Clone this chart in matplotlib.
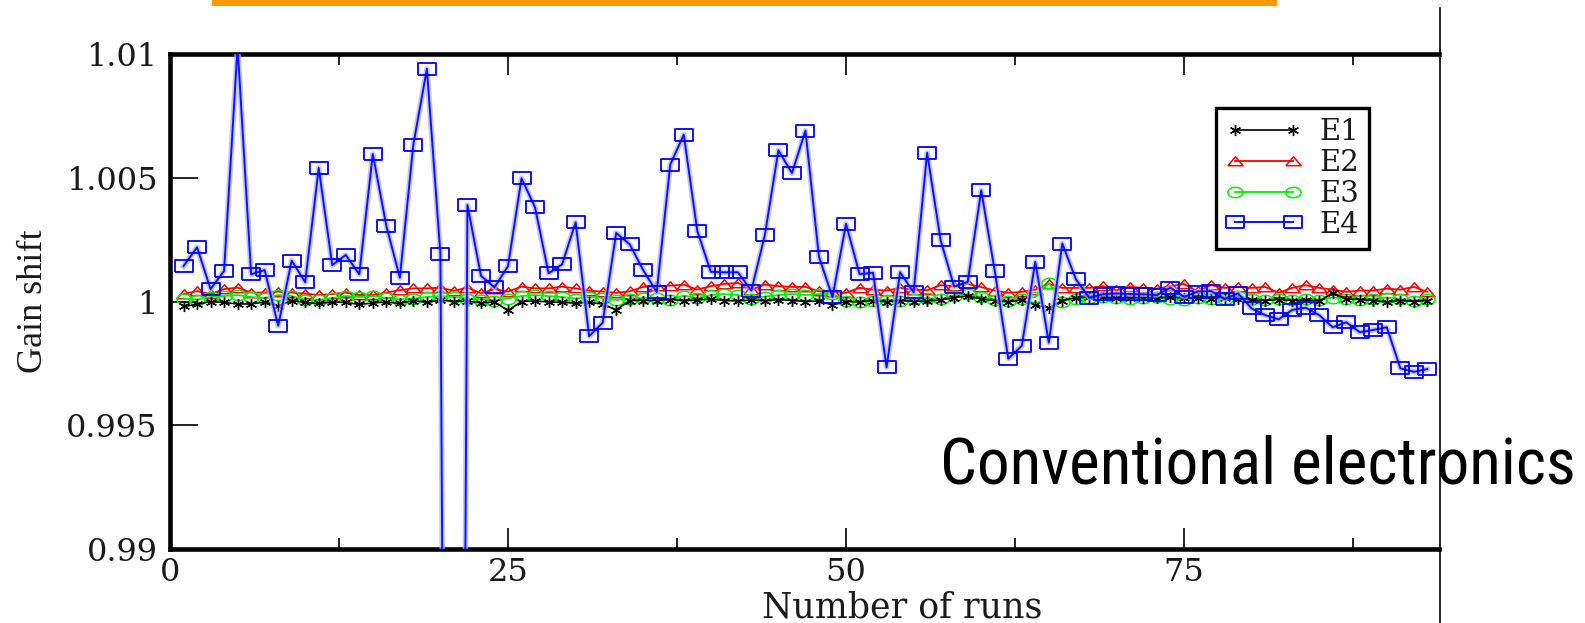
import matplotlib
matplotlib.use("Agg")
import matplotlib.pyplot as plt
import numpy as np
import os
from matplotlib.lines import Line2D
from matplotlib.patches import Rectangle
from matplotlib import font_manager as fm

# ---------------- data ----------------
runs = list(range(1, 94))

e1 = [0.99980, 0.99988, 1.00000, 0.99996, 0.99990, 0.99990, 0.99998, 0.99982, 1.00004, 0.99996,
      0.99992, 0.99998, 0.99996, 0.99988, 0.99994, 0.99998, 0.99992, 1.00004, 0.99996, 1.00006,
      1.00000, 1.00002, 0.99994, 0.99998, 0.99964, 1.00000, 1.00002, 0.99998, 0.99996, 0.99994,
      0.99996, 0.99990, 0.99966, 1.00004, 1.00004, 1.00004, 1.00008, 1.00004, 1.00006, 1.00010,
      1.00004, 1.00002, 1.00006, 1.00004, 1.00008, 1.00004, 1.00000, 1.00002, 0.99986, 1.00000,
      0.99998, 1.00004, 0.99998, 1.00004, 1.00000, 1.00002, 1.00006, 1.00016, 1.00022, 1.00010,
      1.00004, 0.99998, 1.00006, 0.99986, 0.99974, 1.00004, 1.00016, 1.00018, 1.00018, 1.00014,
      1.00016, 1.00016, 1.00014, 1.00018, 1.00014, 1.00016, 1.00012, 1.00016, 1.00010, 1.00006,
      1.00004, 1.00008, 1.00004, 1.00006, 1.00002, 1.00034, 1.00010, 1.00008, 1.00004, 0.99998,
      1.00004, 1.00000, 1.00004]

e2 = [1.00030, 1.00042, 1.00030, 1.00050, 1.00056, 1.00036, 1.00036, 1.00040, 1.00036, 1.00032,
      1.00026, 1.00030, 1.00036, 1.00026, 1.00026, 1.00036, 1.00046, 1.00053, 1.00053, 1.00056,
      1.00043, 1.00056, 1.00033, 1.00050, 1.00040, 1.00060, 1.00053, 1.00053, 1.00060, 1.00053,
      1.00043, 1.00040, 1.00035, 1.00041, 1.00059, 1.00062, 1.00064, 1.00068, 1.00048, 1.00062,
      1.00071, 1.00075, 1.00048, 1.00068, 1.00062, 1.00059, 1.00059, 1.00041, 1.00039, 1.00035,
      1.00055, 1.00048, 1.00044, 1.00055, 1.00048, 1.00045, 1.00066, 1.00062, 1.00071, 1.00058,
      1.00044, 1.00035, 1.00039, 1.00048, 1.00071, 1.00055, 1.00055, 1.00055, 1.00062, 1.00045,
      1.00059, 1.00055, 1.00052, 1.00062, 1.00071, 1.00041, 1.00066, 1.00055, 1.00059, 1.00055,
      1.00059, 1.00035, 1.00055, 1.00066, 1.00055, 1.00048, 1.00039, 1.00044, 1.00044, 1.00052,
      1.00048, 1.00059, 1.00039]

e3 = [1.00012, 1.00008, 1.00018, 1.00022, 1.00026, 1.00018, 1.00014, 1.00026, 1.00022, 1.00008,
      1.00006, 1.00014, 1.00022, 1.00018, 1.00022, 1.00014, 1.00008, 1.00012, 1.00018, 1.00022,
      1.00018, 1.00012, 1.00008, 1.00004, 1.00012, 1.00022, 1.00026, 1.00022, 1.00018, 1.00012,
      1.00018, 1.00014, 1.00006, 1.00012, 1.00014, 1.00014, 1.00008, 1.00024, 1.00014, 1.00026,
      1.00030, 1.00026, 1.00012, 1.00020, 1.00026, 1.00030, 1.00026, 1.00030, 1.00032, 1.00004,
      1.00000, 1.00004, 1.00008, 1.00004, 1.00010, 1.00014, 1.00010, 1.00024, 1.00030, 1.00018,
      1.00008, 1.00004, 1.00012, 1.00018, 1.00075, 1.00000, 1.00012, 1.00016, 1.00018, 1.00016,
      1.00012, 1.00016, 1.00018, 1.00012, 1.00008, 1.00016, 1.00012, 1.00010, 1.00022, 1.00010,
      1.00006, 1.00010, 1.00008, 1.00010, 1.00008, 1.00016, 1.00012, 1.00008, 1.00012, 1.00016,
      1.00010, 1.00004, 1.00012]

e4 = [1.00143, 1.00219, 1.00050, 1.00124, 1.01030, 1.00110, 1.00127, 0.99902, 1.00165, 1.00078,
      1.00540, 1.00147, 1.00188, 1.00110, 1.00596, 1.00306, 1.00096, 1.00634, 1.00940, 1.00192,
      0.91200, 1.00390, 1.00104, 1.00057, 1.00143, 1.00498, 1.00380, 1.00114, 1.00150, 1.00320,
      0.99860, 0.99914, 1.00277, 1.00231, 1.00127, 1.00038, 1.00553, 1.00674, 1.00285, 1.00120,
      1.00118, 1.00118, 1.00044, 1.00269, 1.00611, 1.00519, 1.00690, 1.00181, 1.00017, 1.00314,
      1.00111, 1.00116, 0.99734, 1.00118, 1.00037, 1.00601, 1.00247, 1.00060, 1.00079, 1.00449,
      1.00124, 0.99769, 0.99821, 1.00160, 0.99834, 1.00234, 1.00090, 1.00015, 1.00030, 1.00033,
      1.00030, 1.00029, 1.00026, 1.00056, 1.00019, 1.00040, 1.00042, 1.00010, 1.00033, 0.99972,
      0.99945, 0.99928, 0.99966, 0.99975, 0.99945, 0.99896, 0.99916, 0.99876, 0.99885, 0.99896,
      0.99730, 0.99716, 0.99727]

series_labels = ["E1", "E2", "E3", "E4"]
x_major = [0, 25, 50, 75]
x_minor = [12.5, 37.5, 62.5, 87.5]
y_major = [0.99, 0.995, 1.0, 1.005, 1.01]
y_ticklabels = ["0.99", "0.995", "1", "1.005", "1.01"]


# ---------------- pick a narrow sans font for the slide caption ----------------
def pick_narrow_font():
    def plain(f):
        base = os.path.basename(f.fname).lower()
        return not any(k in base for k in ("bold", "italic", "oblique", "light", "thin",
                                           "black", "medium", "semi", "extra"))
    entries = fm.fontManager.ttflist
    for wanted in ("Liberation Sans Narrow", "Roboto Condensed", "Open Sans Condensed",
                   "Noto Sans Condensed"):
        for f in entries:
            if f.name == wanted and plain(f):
                return fm.FontProperties(fname=f.fname)
    for fam in ("DejaVu Sans", "Noto Sans", "Open Sans", "Roboto"):
        for f in entries:
            base = os.path.basename(f.fname).lower()
            if f.name == fam and ("condensed" in base or "narrow" in base) and plain(f):
                return fm.FontProperties(fname=f.fname)
    return fm.FontProperties(family="Liberation Sans")


# ---------------- figure ----------------
W, H = 1585, 623
fig = plt.figure(figsize=(W / 100, H / 100), dpi=100)
fig.patch.set_facecolor("white")

L, R, T, B = 170, 1439, 54, 549
ax = fig.add_axes([L / W, 1 - B / H, (R - L) / W, (B - T) / H])
ax.set_xlim(0, 93.86)
ax.set_ylim(0.99, 1.01)

# custom markers (slightly wider than tall, like the reference)
rect_m = [(-1, -0.68), (1, -0.68), (1, 0.68), (-1, 0.68), (-1, -0.68)]
tri_m = [(-1, -0.55), (1, -0.55), (0, 0.62), (-1, -0.55)]
th = np.linspace(0, 2 * np.pi, 40)
ell_m = list(zip(np.cos(th), 0.68 * np.sin(th)))

h2, = ax.plot(runs, e2, color="#ff0000", lw=1.3, marker=tri_m, ms=11,
              mfc="none", mec="#ff0000", mew=1.1, label="E2", zorder=3)
h3, = ax.plot(runs, e3, color="#00ee00", lw=1.3, marker=ell_m, ms=11,
              mfc="none", mec="#00ee00", mew=1.1, label="E3", zorder=4)
h1, = ax.plot(runs, e1, color="black", lw=1.2, marker=(6, 2, 0), ms=8,
              mew=1.0, mec="black", label="E1", zorder=5)
ax.plot(runs, e4, color="#aab0ff", lw=4.0, alpha=0.7, zorder=5.5)
h4, = ax.plot(runs, e4, color="#1010ff", lw=1.4, marker=rect_m, ms=13,
              mfc="none", mec="#0000ff", mew=1.3, label="E4", zorder=6)

# ticks
ax.set_xticks(x_major)
ax.set_xticks(x_minor, minor=True)
ax.set_yticks(y_major)
ax.set_yticklabels(y_ticklabels)
for lab in ax.get_xticklabels() + ax.get_yticklabels():
    lab.set_fontfamily("DejaVu Serif")
    lab.set_fontsize(23)
    lab.set_color("#1a1a1a")
ax.tick_params(axis="x", which="major", direction="in", length=15, width=1.2,
               top=True, bottom=True, pad=6)
ax.tick_params(axis="x", which="minor", direction="in", length=8, width=1.2,
               top=True, bottom=True)
ax.tick_params(axis="y", which="major", direction="in", length=20, width=1.2,
               left=True, right=False, pad=9)

for s in ["left", "top", "bottom"]:
    ax.spines[s].set_linewidth(3.3)
ax.spines["right"].set_visible(False)

# legend
leg = ax.legend(handles=[h1, h2, h3, h4], labels=series_labels,
                loc="upper left", bbox_to_anchor=((1216 - L) / (R - L), (B - 108) / (B - T)),
                borderaxespad=0, numpoints=2, handlelength=2.6, handletextpad=0.6,
                labelspacing=0.1, borderpad=0.34, fancybox=False, framealpha=1,
                edgecolor="black", prop=dict(family="DejaVu Serif", size=21))
leg.get_frame().set_linewidth(2.4)
for t in leg.get_texts():
    t.set_color("#1a1a1a")

# axis labels (placed in figure pixels)
fig.text(902 / W, 1 - 617 / H, "Number of runs", ha="center", va="baseline",
         family="DejaVu Serif", size=25, color="#1a1a1a")
fig.text(33 / W, 1 - 301 / H, "Gain shift", ha="center", va="center", rotation=90,
         family="Liberation Serif", size=26, color="#1a1a1a")

# slide decorations
cap_fp = pick_narrow_font()
cap_fp.set_size(51)
cap = fig.text(940 / W, 1 - 483 / H, "Conventional electronics", ha="left", va="baseline",
               fontproperties=cap_fp, color="black")
fig.canvas.draw()
wpx = cap.get_window_extent().width
target = 1577 - 940
cap.set_fontsize(min(51 * target / wpx, 56))

fig.add_artist(Rectangle((212 / W, 1 - 5.5 / H), (1277 - 212) / W, 5.5 / H,
                         transform=fig.transFigure, color="#ff9900", lw=0))
fig.add_artist(Line2D([1440 / W, 1440 / W], [1 - 8 / H, 0], transform=fig.transFigure,
                      color="black", lw=1.2))

fig.savefig("out.png", dpi=100)
